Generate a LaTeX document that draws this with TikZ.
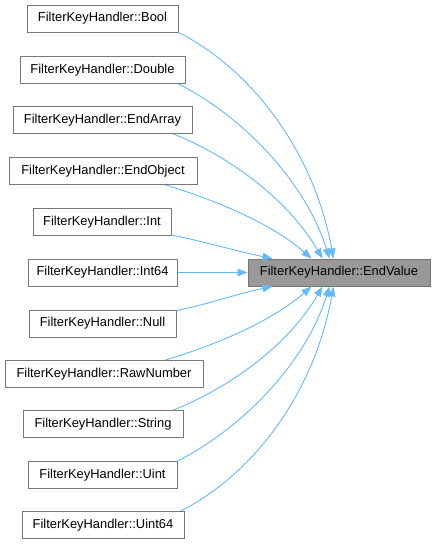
\documentclass[tikz,border=0pt]{standalone}
\usepackage{fontspec}
\setmainfont{Liberation Sans}
\usetikzlibrary{arrows.meta,calc}
\definecolor{edgeblue}{HTML}{63B8FF}
\definecolor{boxborder}{HTML}{777777}
\definecolor{evfill}{HTML}{999999}
\begin{document}
\begin{tikzpicture}[x=1pt,y=-1pt,
  fnode/.style={draw=boxborder,fill=white,line width=1pt,minimum height=27pt,inner sep=0pt,
    font=\fontsize{12.9}{15}\selectfont,text=black},
  evnode/.style={fnode,fill=evfill},
  edge/.style={draw=edgeblue,line width=0.9pt,-{Triangle[length=10pt,width=7.5pt]}}]
\useasboundingbox (0,0) rectangle (435,544);
\node[fnode,minimum width=151pt] (bool) at (102.5,18.5) {FilterKeyHandler::Bool};
\node[fnode,minimum width=165pt] (double) at (102.5,70) {FilterKeyHandler::Double};
\node[fnode,minimum width=179pt] (endarray) at (102.5,120) {FilterKeyHandler::EndArray};
\node[fnode,minimum width=188pt] (endobject) at (103,171) {FilterKeyHandler::EndObject};
\node[fnode,minimum width=138pt] (int) at (102,222) {FilterKeyHandler::Int};
\node[fnode,minimum width=149pt] (int64) at (102.5,272.5) {FilterKeyHandler::Int64};
\node[fnode,minimum width=147pt] (null) at (102.5,323.5) {FilterKeyHandler::Null};
\node[fnode,minimum width=198pt] (rawnumber) at (104,374) {FilterKeyHandler::RawNumber};
\node[fnode,minimum width=160pt] (string) at (103,424) {FilterKeyHandler::String};
\node[fnode,minimum width=149pt] (uint) at (102.5,475) {FilterKeyHandler::Uint};
\node[fnode,minimum width=162pt] (uint64) at (103,525) {FilterKeyHandler::Uint64};
\node[evnode,minimum width=182pt] (ev) at (339,272.5) {FilterKeyHandler::EndValue};

\draw[edge] (bool.south east) .. controls +(70,35) and +(-20,-110) .. ($(ev.north west)+(86,0)$);
\draw[edge] ($(double.south east)+(-7,0)$) .. controls +(60,30) and +(-25,-80) .. ($(ev.north west)+(82,0)$);
\draw[edge] ($(endarray.south east)+(-19,0)$) .. controls +(55,22) and +(-35,-60) .. ($(ev.north west)+(75,0)$);
\draw[edge] ($(endobject.south east)+(-32,0)$) .. controls +(50,15) and +(-40,-35) .. ($(ev.north west)+(64,0)$);
\draw[edge] ($(int.south east)+(0,-1)$) .. controls +(35,7) and +(-35,-7) .. ($(ev.north west)+(25,0)$);
\draw[edge] (int64.east) -- (ev.west);
\draw[edge] ($(null.north east)+(0,1)$) .. controls +(35,-7) and +(-35,7) .. ($(ev.south west)+(25,0)$);
\draw[edge] ($(rawnumber.north east)+(-38,0)$) .. controls +(50,-15) and +(-40,35) .. ($(ev.south west)+(64,0)$);
\draw[edge] ($(string.north east)+(-10,0)$) .. controls +(55,-22) and +(-35,60) .. ($(ev.south west)+(75,0)$);
\draw[edge] (uint.north east) .. controls +(60,-30) and +(-25,80) .. ($(ev.south west)+(82,0)$);
\draw[edge] ($(uint64.north east)+(-4,0)$) .. controls +(70,-35) and +(-20,110) .. ($(ev.south west)+(86,0)$);
\end{tikzpicture}
\end{document}
